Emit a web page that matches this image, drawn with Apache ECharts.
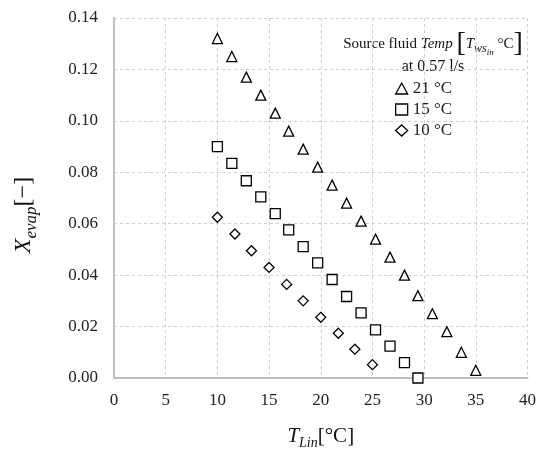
<!DOCTYPE html>
<html>
<head>
<meta charset="utf-8">
<script src="https://cdn.jsdelivr.net/npm/echarts@6/dist/echarts.min.js"></script>
<style>html,body{margin:0;padding:0;background:#fff}#c{width:539px;height:460px}</style>
</head>
<body>
<div id="c"></div>
<script>
// Source fluid 21 °C (triangles)
const x21 = [10, 11.4, 12.8, 14.2, 15.6, 16.9, 18.3, 19.7, 21.1, 22.5, 23.9, 25.3, 26.7, 28.1, 29.4, 30.8, 32.2, 33.6, 35];
const y21 = [0.132, 0.125, 0.117, 0.110, 0.103, 0.096, 0.089, 0.082, 0.075, 0.068, 0.061, 0.054, 0.047, 0.040, 0.032, 0.025, 0.018, 0.010, 0.003];
// Source fluid 15 °C (squares)
const x15 = [10, 11.4, 12.8, 14.2, 15.6, 16.9, 18.3, 19.7, 21.1, 22.5, 23.9, 25.3, 26.7, 28.1, 29.4];
const y15 = [0.090, 0.0835, 0.0767, 0.0704, 0.0639, 0.0576, 0.0511, 0.0448, 0.0383, 0.0317, 0.0253, 0.0187, 0.0124, 0.006, 0.000];
// Source fluid 10 °C (diamonds)
const x10 = [10, 11.7, 13.3, 15.0, 16.7, 18.3, 20.0, 21.7, 23.3, 25.0];
const y10 = [0.0625, 0.056, 0.0495, 0.043, 0.0364, 0.030, 0.0236, 0.0174, 0.0112, 0.0052];

const seriesNames = ['21 °C', '15 °C', '10 °C'];
const symbols = ['triangle', 'rect', 'diamond'];

const FONT = 'Liberation Serif';
const pair = (xs, ys) => xs.map((x, i) => [x, ys[i]]);
const sets = [pair(x21, y21), pair(x15, y15), pair(x10, y10)];

const xTitleRich = {
  i: {fontFamily: FONT, fontStyle: 'italic', fontSize: 21, color: '#111', verticalAlign: 'top'},
  s: {fontFamily: FONT, fontStyle: 'italic', fontSize: 14, color: '#111', verticalAlign: 'top', padding: [10, 0, 0, 0]},
  n: {fontFamily: FONT, fontSize: 21, color: '#111', verticalAlign: 'top'}
};
const yTitleRich = {
  i: {fontFamily: FONT, fontStyle: 'italic', fontSize: 24, color: '#111', verticalAlign: 'top'},
  s: {fontFamily: FONT, fontStyle: 'italic', fontSize: 17, color: '#111', verticalAlign: 'top', padding: [11, 0, 0, 0]},
  n: {fontFamily: FONT, fontSize: 24, color: '#111', verticalAlign: 'top', padding: [0, 34, 0, 0]}
};

const chart = echarts.init(document.getElementById('c'), null, {renderer: 'canvas'});
chart.setOption({
  animation: false,
  backgroundColor: '#fff',
  grid: {left: 114, right: 9, top: 18, bottom: 82, containLabel: false},
  xAxis: {
    type: 'value', min: 0, max: 40, interval: 5,
    axisLine: {show: true, lineStyle: {color: '#bfbfbf', width: 2}},
    axisTick: {show: false},
    splitLine: {show: true, lineStyle: {color: '#d0d0d0', type: [3, 3], width: 1}},
    axisLabel: {fontFamily: FONT, fontSize: 17, color: '#222', margin: 14},
    name: '{i|T}{s|Lin}{n|[°C]}',
    nameLocation: 'middle', nameGap: 48,
    nameTextStyle: {rich: xTitleRich}
  },
  yAxis: {
    type: 'value', min: 0, max: 0.14, interval: 0.02,
    axisLine: {show: true, lineStyle: {color: '#bfbfbf', width: 2}},
    axisTick: {show: false},
    splitLine: {show: true, lineStyle: {color: '#d0d0d0', type: [3, 3], width: 1}},
    axisLabel: {fontFamily: FONT, fontSize: 17, color: '#222', margin: 16, formatter: v => v.toFixed(2)},
    name: '{i|X}{s|evap}{n|[−]}',
    nameLocation: 'middle', nameGap: 74, nameRotate: 90,
    nameTextStyle: {rich: yTitleRich}
  },
  legend: {
    orient: 'vertical', left: 390, top: 75,
    itemWidth: 12, itemHeight: 11, itemGap: 4,
    data: seriesNames.map((n, i) => ({name: n, icon: symbols[i]})),
    itemStyle: {color: '#fff', borderColor: '#000', borderWidth: 1.3},
    textStyle: {fontFamily: FONT, fontSize: 17, color: '#222'}
  },
  graphic: [
    {
      type: 'text', x: 433, y: 44,
      style: {
        text: '{a|Source fluid }{b|Temp}{a| }{k|[}{b|T}{s|ws}{t|in}{a| °C}{k|]}',
        align: 'center', verticalAlign: 'middle',
        rich: {
          a: {fontFamily: FONT, fontSize: 15, fill: '#111', verticalAlign: 'middle'},
          b: {fontFamily: FONT, fontStyle: 'italic', fontSize: 15, fill: '#111', verticalAlign: 'middle'},
          s: {fontFamily: FONT, fontStyle: 'italic', fontSize: 12, fill: '#111', verticalAlign: 'middle', padding: [9, 0, 0, 0]},
          t: {fontFamily: FONT, fontStyle: 'italic', fontSize: 9, fill: '#111', verticalAlign: 'middle', padding: [17, 0, 0, 0]},
          k: {fontFamily: FONT, fontSize: 28, fill: '#111', verticalAlign: 'middle'}
        }
      }
    },
    {
      type: 'text', x: 433, y: 67,
      style: {
        text: 'at 0.57 l/s', align: 'center', verticalAlign: 'middle',
        fontFamily: FONT, fontSize: 16, fill: '#111'
      }
    }
  ],
  series: seriesNames.map((n, i) => ({
    name: n, type: 'scatter', symbol: symbols[i], symbolSize: 10,
    itemStyle: {color: '#fff', borderColor: '#000', borderWidth: 1.3, opacity: 1},
    data: sets[i]
  }))
});
</script>
</body>
</html>
